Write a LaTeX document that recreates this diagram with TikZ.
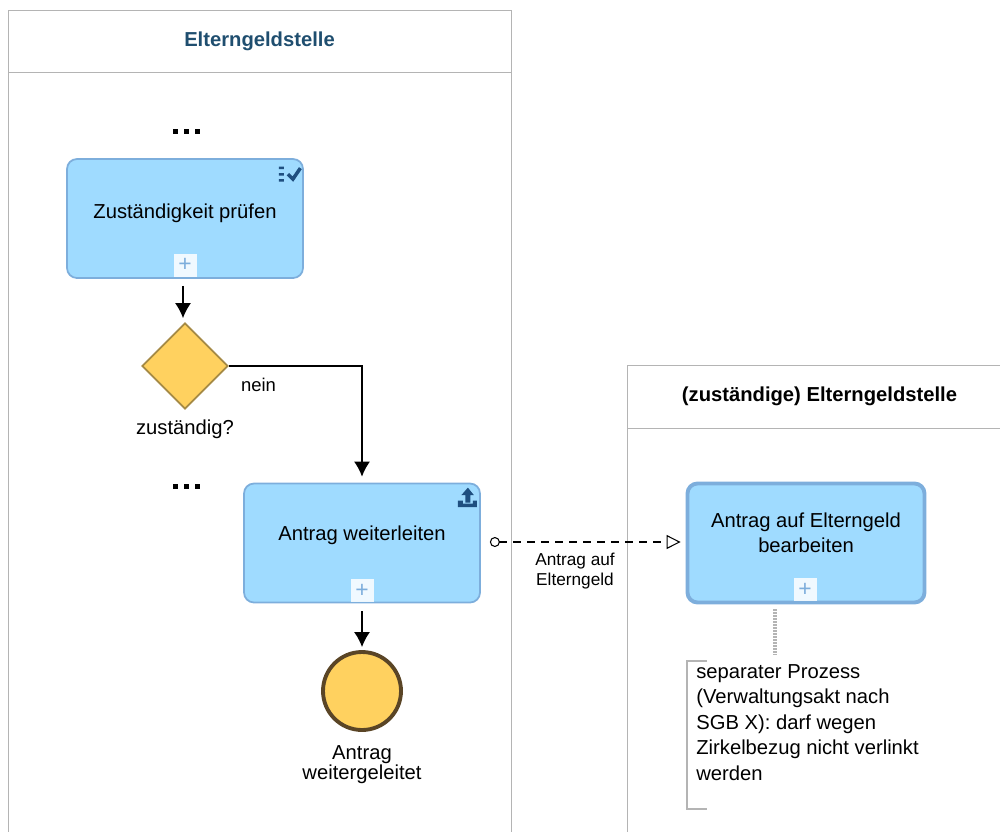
\documentclass[tikz,border=0pt]{standalone}
\usepackage{fontspec}
\setmainfont{Liberation Sans}
\usepackage{xcolor}
\usetikzlibrary{positioning}
\usetikzlibrary{shapes.geometric}
\usetikzlibrary{arrows.meta}
\usetikzlibrary{calc}
\definecolor{taskblue}{HTML}{9FDBFF}
\definecolor{taskline}{HTML}{7DAEDC}
\definecolor{iconblue}{HTML}{1F4F80}
\definecolor{gateyellow}{HTML}{FFD15F}
\definecolor{eventline}{HTML}{5A4526}
\definecolor{gateline}{HTML}{A58A45}
\definecolor{titleblue}{HTML}{1F4E6F}
\definecolor{poolgray}{HTML}{B4B4B4}
\tikzset{
  poolhead/.style={draw=poolgray,line width=0.45pt,rectangle,minimum height=1.24cm,inner sep=0pt,outer sep=0pt},
  task/.style={draw=taskline,line width=1pt,fill=taskblue,rectangle,rounded corners=0.2cm,minimum width=4.72cm,minimum height=2.38cm,inner sep=0pt},
  plusbox/.style={fill=white,fill opacity=0.85,text opacity=1,text=taskline,rectangle,minimum size=0.46cm,inner sep=0pt,font=\fontsize{13}{13}\selectfont},
  gate/.style={draw=gateline,line width=1pt,fill=gateyellow,diamond,minimum width=1.72cm,minimum height=1.72cm,inner sep=0pt},
  endevent/.style={draw=eventline,line width=2.2pt,fill=gateyellow,circle,minimum size=1.56cm,inner sep=0pt},
  dotmark/.style={fill=black,rectangle,minimum size=0.1cm,inner sep=0pt},
  lbl/.style={font=\fontsize{11.5}{11.5}\selectfont,align=center,inner sep=0pt},
  smalllbl/.style={font=\fontsize{9.8}{11.4}\selectfont,align=center,inner sep=0pt}
}
\begin{document}
\begin{tikzpicture}
  \useasboundingbox (0,0) rectangle (20,-16.62);
  \clip (0,0) rectangle (20,-16.62);
  % pools
  \node[poolhead,minimum width=10.06cm,text=titleblue,font=\fontsize{11.5}{11.5}\selectfont\bfseries] (pool1) at (5.19,-0.82) {Elterngeldstelle};
  \draw[poolgray,line width=0.45pt] (pool1.south west) -- ++(0,-16);
  \draw[poolgray,line width=0.45pt] (pool1.south east) -- ++(0,-16);
  \node[poolhead,minimum width=8cm,minimum height=1.27cm,anchor=north west] (pool2) at (12.55,-7.3) {};
  \node[font=\fontsize{11.5}{11.5}\selectfont\bfseries,inner sep=0pt] (title2) at (16.39,-7.92) {(zuständige) Elterngeldstelle};
  \draw[poolgray,line width=0.45pt] (pool2.south west) -- ++(0,-10);
  % tasks
  \node[task,label={[lbl,yshift=0.11cm]center:Zuständigkeit prüfen}] (check) at (3.7,-4.37) {};
  \node[task,label={[lbl,yshift=0.16cm]center:Antrag weiterleiten}] (send) at (7.24,-10.86) {};
  \node[task,line width=2.2pt,minimum width=4.74cm,label={[lbl,yshift=0.2cm,font=\fontsize{11.5}{14}\selectfont]center:Antrag auf Elterngeld\\bearbeiten}] (recv) at (16.12,-10.86) {};
  \node[plusbox,above=0.04cm of check.south] (plus1) {+};
  \node[plusbox,above=0.02cm of send.south] (plus2) {+};
  \node[plusbox,above=0.06cm of recv.south,xshift=-0.02cm] (plus3) {+};
  % markers in the tasks
  \begin{scope}[shift={(check.north east)},x=0.02cm,y=-0.02cm]
    \fill[iconblue] (-25,8.5) rectangle (-20,11) (-25,15) rectangle (-20,17.5) (-25,21) rectangle (-20,23.5);
    \draw[iconblue,line width=2pt] (-16,16) -- (-11,21) -- (-3.5,10);
  \end{scope}
  \begin{scope}[shift={(send.north east)},x=0.02cm,y=-0.02cm]
    \fill[iconblue] (-13,5) -- (-7,12.5) -- (-10.5,12.5) -- (-10.5,20) -- (-15.5,20) -- (-15.5,12.5) -- (-19.5,12.5) -- cycle;
    \fill[iconblue] (-23,18) -- (-18,18) -- (-18,21) -- (-8,21) -- (-8,18) -- (-4,18) -- (-4,24.5) -- (-23,24.5) -- cycle;
  \end{scope}
  % gateway and end event
  \node[gate] (gw) at (3.7,-7.32) {};
  \node[lbl,below=0.2cm of gw] (gwlbl) {zuständig?};
  \node[endevent] (done) at (7.24,-13.82) {};
  \node[lbl,font=\fontsize{11.5}{10.5}\selectfont,below=0.26cm of done] (donelbl) {Antrag\\weitergeleitet};
  \node[lbl,font=\fontsize{10.5}{10.5}\selectfont] (neinlbl) at (5.17,-7.7) {nein};
  % dots
  \begin{scope}[every node/.style={dotmark}]
    \node (a1) at (3.5,-2.62) {};
    \node (a2) at (3.72,-2.62) {};
    \node (a3) at (3.94,-2.62) {};
    \node (b1) at (3.5,-9.72) {};
    \node (b2) at (3.72,-9.72) {};
    \node (b3) at (3.94,-9.72) {};
  \end{scope}
  % flows
  \begin{scope}[every path/.style={->,line width=0.8pt},>={Latex[length=0.3cm,width=0.32cm]}]
    \draw[shorten <=0.14cm,shorten >=0.08cm] ($(check.south)+(-0.04,0)$) -- ($(gw.north)+(-0.04,0)$);
    \draw[shorten >=0.12cm] (gw.east) -| (send.north);
    \draw[shorten <=0.16cm,shorten >=0.06cm] (send.south) -- (done.north);
  \end{scope}
  \draw[dash pattern=on 0.16cm off 0.12cm,line width=0.6pt,{Circle[open,length=0.2cm,width=0.2cm]}-{Triangle[open,length=0.28cm,width=0.28cm]},shorten <=0.18cm,shorten >=0.1cm] ($(send.east)+(0,0.02)$) -- ($(recv.west)+(0,0.02)$);
  \node[smalllbl] (msglbl) at (11.5,-11.42) {Antrag auf\\Elterngeld};
  % annotation
  \node[lbl,font=\fontsize{11.5}{14.5}\selectfont,align=left,anchor=north west] (note) at (13.92,-13.28) {separater Prozess\\(Verwaltungsakt nach\\SGB X): darf wegen\\Zirkelbezug nicht verlinkt\\werden};
  \coordinate (brtop) at (14.14,-13.22);
  \coordinate (brbot) at (14.14,-16.18);
  \coordinate (assoc) at (15.5,-13.1);
  \draw[poolgray,line width=0.8pt] (brtop) -- (13.74,-13.22) -- (13.74,-16.18) -- (brbot);
  \draw[poolgray,line width=2pt,dash pattern=on 0.03cm off 0.03cm,shorten <=0.1cm] (recv.south -| assoc) -- (assoc);
\end{tikzpicture}
\end{document}
